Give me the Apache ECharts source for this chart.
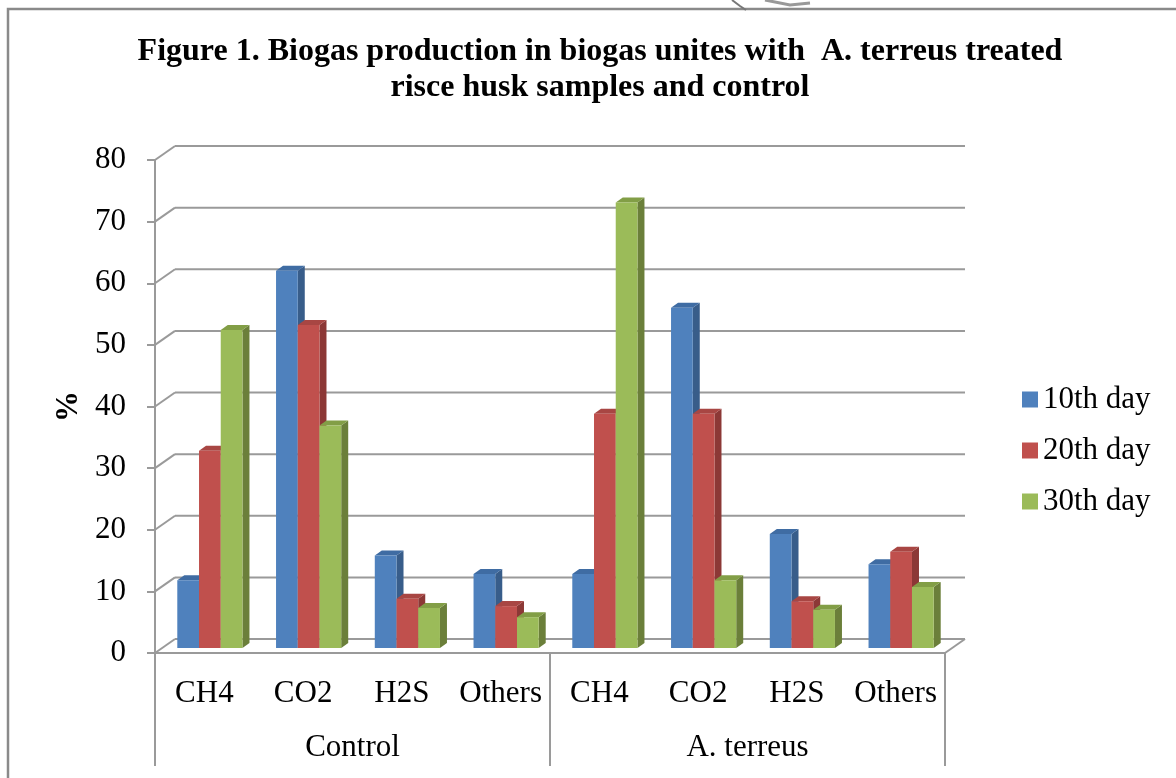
<!DOCTYPE html>
<html>
<head>
<meta charset="utf-8">
<script src="https://cdn.jsdelivr.net/npm/echarts@6/dist/echarts.min.js"></script>
<style>html,body{margin:0;padding:0;background:#fff;}#c{width:1176px;height:778px;}</style>
</head>
<body>
<div id="c"></div>
<script>
// ---- data ----
const categories = ['CH4', 'CO2', 'H2S', 'Others', 'CH4', 'CO2', 'H2S', 'Others'];
const groups = ['Control', 'A. terreus'];
const seriesNames = ['10th day', '20th day', '30th day'];
const day10 = [11, 61.2, 15, 12, 12, 55.2, 18.5, 13.6];
const day20 = [32, 52.4, 8, 6.8, 38, 38, 7.6, 15.6];
const day30 = [51.6, 36.1, 6.5, 5, 72.3, 11, 6.2, 9.9];
const yTicks = [0, 10, 20, 30, 40, 50, 60, 70, 80];

// ---- styles ----
const FONT = '"Liberation Serif", "Times New Roman", serif';
const GRID_COLOR = '#9a9a9a';
const WALL_DX = 20, WALL_DY = -14;   // depth of the back wall
const BAR_DX = 5.5, BAR_DY = -5;     // bar plane offset
const BAR_DEPTH_X = 7, BAR_DEPTH_Y = -5;
const colors = [
  { front: '#4F81BD', side: '#385D8A', top: '#3F6CA3' },
  { front: '#C0504D', side: '#8C3836', top: '#A84643' },
  { front: '#9BBB59', side: '#6B7F3A', top: '#829E46' }
];
const values = [day10, day20, day30];

function wallItem(params, api) {
  const cs = params.coordSys;
  const v = api.value(1);
  const p = api.coord([0, v]);
  const y = p[1];
  const x0 = cs.x, x1 = cs.x + cs.width;
  const ls = { stroke: GRID_COLOR, lineWidth: 2 };
  const children = [
    { type: 'line', shape: { x1: x0 + WALL_DX, y1: y + WALL_DY, x2: x1 + WALL_DX, y2: y + WALL_DY }, style: ls },
    { type: 'line', shape: { x1: x0, y1: y, x2: x0 + WALL_DX, y2: y + WALL_DY }, style: ls }
  ];
  if (v === 0) {
    children.push({ type: 'line', shape: { x1: x1, y1: y, x2: x1 + WALL_DX, y2: y + WALL_DY }, style: ls });
  }
  return { type: 'group', children: children };
}

function barItemFactory(k) {
  return function (params, api) {
    const cat = api.value(0), v = api.value(1);
    const base = api.coord([cat, 0]);
    const topP = api.coord([cat, v]);
    const bw = api.size([1, 0])[0] * 0.22;
    const xl = base[0] - 1.5 * bw + k * bw + BAR_DX;
    const xr = xl + bw;
    const yb = base[1] + BAR_DY;
    const yt = topP[1] + BAR_DY;
    const c = colors[k];
    return {
      type: 'group',
      children: [
        { type: 'polygon', shape: { points: [[xr, yt], [xr + BAR_DEPTH_X, yt + BAR_DEPTH_Y], [xr + BAR_DEPTH_X, yb + BAR_DEPTH_Y], [xr, yb]] }, style: { fill: c.side } },
        { type: 'polygon', shape: { points: [[xl, yt], [xr, yt], [xr + BAR_DEPTH_X, yt + BAR_DEPTH_Y], [xl + BAR_DEPTH_X, yt + BAR_DEPTH_Y]] }, style: { fill: c.top } },
        { type: 'rect', shape: { x: xl, y: yt, width: bw, height: yb - yt }, style: { fill: c.front } }
      ]
    };
  };
}

const series = [{
  type: 'custom',
  name: 'walls',
  renderItem: wallItem,
  data: yTicks.map(v => [0, v]),
  silent: true,
  z: 1
}];
values.forEach((arr, k) => {
  series.push({
    type: 'custom',
    name: seriesNames[k],
    renderItem: barItemFactory(k),
    itemStyle: { color: colors[k].front },
    data: arr.map((v, i) => [i, v]),
    z: 2
  });
});

const chart = echarts.init(document.getElementById('c'), null, { renderer: 'canvas' });
chart.setOption({
  animation: false,
  backgroundColor: '#fff',
  title: {
    text: 'Figure 1. Biogas production in biogas unites with  A. terreus treated\nrisce husk samples and control',
    left: 595, top: 29, textAlign: 'center',
    textStyle: { fontFamily: FONT, fontWeight: 'bold', fontSize: 32, lineHeight: 36, color: '#000' }
  },
  legend: {
    data: seriesNames,
    orient: 'vertical',
    left: 1017, top: 379,
    icon: 'rect', itemWidth: 16, itemHeight: 16, itemGap: 20,
    textStyle: { fontFamily: FONT, fontSize: 31, lineHeight: 31, color: '#000' }
  },
  grid: { left: 155, top: 160, width: 790, height: 493 },
  xAxis: [{
    type: 'category', data: categories,
    axisLine: { lineStyle: { color: GRID_COLOR, width: 2 } },
    axisTick: { show: false },
    axisLabel: { interval: 0, margin: 25, fontFamily: FONT, fontSize: 31, color: '#000' },
    splitLine: { show: false }
  }, {
    type: 'category', data: groups, position: 'bottom',
    axisLine: { show: false },
    axisTick: { show: true, length: 113, lineStyle: { color: GRID_COLOR, width: 2 } },
    axisLabel: { interval: 0, margin: 79, fontFamily: FONT, fontSize: 31, color: '#000' },
    splitLine: { show: false }
  }],
  yAxis: {
    type: 'value', min: 0, max: 80, interval: 10,
    name: '%', nameLocation: 'middle', nameGap: 70,
    nameTextStyle: { fontFamily: FONT, fontWeight: 'bold', fontSize: 31, color: '#000' },
    axisLine: { show: true, lineStyle: { color: GRID_COLOR, width: 2 } },
    axisTick: { show: true, length: 8, lineStyle: { color: GRID_COLOR, width: 2 } },
    axisLabel: { margin: 29, fontFamily: FONT, fontSize: 31, color: '#000' },
    splitLine: { show: false }
  },
  graphic: [
    { type: 'rect', shape: { x: 8, y: 9, width: 1300, height: 900 }, style: { fill: 'none', stroke: '#8a8a8a', lineWidth: 2.5 }, z: 0 },
    { type: 'polyline', shape: { points: [[732, 0], [740, 6], [746, 10]] }, style: { fill: 'none', stroke: '#777', lineWidth: 2 } },
    { type: 'polyline', shape: { points: [[765, 0], [790, 5], [810, 3]] }, style: { fill: 'none', stroke: '#999', lineWidth: 3 } }
  ],
  series: series
});
</script>
</body>
</html>
